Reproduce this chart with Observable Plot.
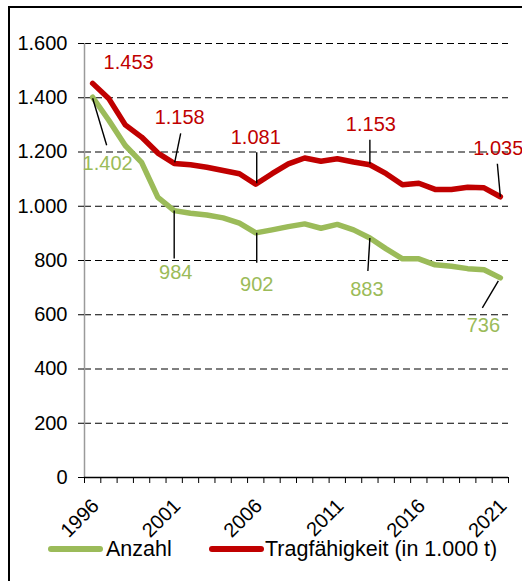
<!DOCTYPE html>
<html><head><meta charset="utf-8">
<script src="https://cdn.jsdelivr.net/npm/d3@7"></script>
<script src="https://cdn.jsdelivr.net/npm/@observablehq/plot@0.6"></script>
<style>
body{margin:0;background:#fff;font-family:"Liberation Sans",Arial,sans-serif;}
#wrap{position:relative;width:522px;height:581px;overflow:hidden;background:#fff;}
#chart{position:absolute;left:0;top:0;}
#frame{position:absolute;left:8px;top:6px;width:700px;height:800px;border-left:2px solid #000;border-top:2px solid #000;pointer-events:none;}
.lg{position:absolute;top:537px;height:24px;font-size:21.5px;line-height:24px;color:#000;white-space:nowrap;}
</style>
</head><body>
<div id="wrap"><div id="chart"></div><div id="frame"></div>
<div id="legend"></div></div>
<script>
// ---- data ----
const years = [1996,1997,1998,1999,2000,2001,2002,2003,2004,2005,2006,2007,2008,2009,2010,2011,2012,2013,2014,2015,2016,2017,2018,2019,2020,2021];
const anzahl = [1402,1316,1224,1162,1033,984,974,968,957,938,902,913,925,935,919,933,913,883,843,806,806,784,779,770,766,736];
const tragfaehigkeit = [1453,1396,1300,1255,1196,1158,1153,1144,1132,1120,1081,1120,1156,1178,1166,1175,1163,1153,1120,1079,1085,1062,1062,1070,1068,1035];
const yTicks = [0,200,400,600,800,1000,1200,1400,1600];
const xLabelYears = [1996,2001,2006,2011,2016,2021];
const seriesNames = ["Anzahl","Tragfähigkeit (in 1.000 t)"];
const labelledYearsAnzahl = [1996,2001,2006,2013,2021];
const labelledYearsTrag = [1996,2001,2006,2013,2021];

// ---- layout (pixel offsets for labels/leaders, not data) ----
const colors = ["#9bbb59","#c00000"];
const labelLayoutAnzahl = [
  {lx:15, ly:66, l:[0,1,14,48]},
  {lx:1.5, ly:62, l:[0,0,0,48]},
  {lx:1, ly:52, l:[1,0,1,30]},
  {lx:-3, ly:52, l:[0,0,-2,33]},
  {lx:-17, ly:48, l:[-2,3,-18,30]}
];
const labelLayoutTrag = [
  {lx:36, ly:-21, l:null},
  {lx:5.5, ly:-46, l:[0.5,-1,6.5,-30]},
  {lx:0, ly:-47, l:[1,-1,1,-32]},
  {lx:1, ly:-40, l:[0,-1,0,-25]},
  {lx:-2, ly:-48, l:[0,0,-3,-33]}
];

const W=522, H=535, mL=84, mR=14, mT=43, mB=H-477;
const xDom=[years[0]-0.5, years[years.length-1]+0.5];
const yDom=[0,1600];
const pxX=(xDom[1]-xDom[0])/(W-mL-mR);
const pxY=(yDom[1]-yDom[0])/(H-mT-mB);

const de = d3.formatLocale({decimal:",",thousands:".",grouping:[3],currency:["","€"]});
const fmt = de.format(",d");

const rowsA = years.map((y,i)=>({year:y,value:anzahl[i]}));
const rowsT = years.map((y,i)=>({year:y,value:tragfaehigkeit[i]}));

function ann(labYears, rows, layout, color){
  return labYears.map((yr,i)=>{
    const v = rows.find(r=>r.year===yr).value;
    const L = layout[i];
    return {year:yr, value:v, color,
      tx: yr + L.lx*pxX, ty: v - L.ly*pxY,
      leader: L.l ? {x1: yr+L.l[0]*pxX, y1: v-L.l[1]*pxY, x2: yr+L.l[2]*pxX, y2: v-L.l[3]*pxY} : null};
  });
}
const annA = ann(labelledYearsAnzahl, rowsA, labelLayoutAnzahl, colors[0]);
const annT = ann(labelledYearsTrag, rowsT, labelLayoutTrag, colors[1]);
const allAnn = annA.concat(annT);
const leaders = allAnn.filter(d=>d.leader).map(d=>d.leader);
const boundaries = years.map(y=>y-0.5).concat([years[years.length-1]+0.5]);

const chart = Plot.plot({
  width:W, height:H, marginLeft:mL, marginRight:mR, marginTop:mT, marginBottom:mB,
  style:{fontFamily:'"Liberation Sans", Arial, sans-serif', fontSize:"20px", color:"#000", background:"#fff", overflow:"visible"},
  x:{domain:xDom, label:null},
  y:{domain:yDom, label:null},
  marks:[
    Plot.ruleY(yTicks.filter(d=>d>0), {stroke:"#000", strokeWidth:1.1, strokeDasharray:"7,4"}),
    Plot.ruleX([xDom[0]], {stroke:"#9a9a9a", strokeWidth:1.5}),
    Plot.ruleY([0], {stroke:"#000", strokeWidth:1.5}),
    Plot.axisY({ticks:yTicks, tickSize:6, tickPadding:11, tickFormat:fmt, label:null, stroke:"#000", fontSize:20}),
    Plot.axisX({ticks:boundaries, tickSize:6, tickFormat:()=>"", label:null, stroke:"#000"}),
    Plot.axisX({ticks:xLabelYears, tickSize:0, tickPadding:18, dx:3, dy:7, tickRotate:-45, tickFormat:d=>String(d), label:null, fontSize:20}),
    Plot.line(rowsA, {x:"year", y:"value", stroke:colors[0], strokeWidth:5.5, strokeLinejoin:"round", strokeLinecap:"round"}),
    Plot.line(rowsT, {x:"year", y:"value", stroke:colors[1], strokeWidth:5.5, strokeLinejoin:"round", strokeLinecap:"round"}),
    Plot.link(leaders, {x1:"x1", y1:"y1", x2:"x2", y2:"y2", stroke:"#000", strokeWidth:1.4}),
    Plot.text(allAnn, {x:"tx", y:"ty", text:d=>fmt(d.value), fill:d=>d.color, fontSize:20})
  ]
});
document.getElementById("chart").appendChild(chart);

const legend = document.getElementById("legend");
const legItems = [{sw:48, swW:55, tx:106},{sw:209, swW:55, tx:265}];
seriesNames.forEach((name,i)=>{
  const s=document.createElement("div");
  s.style.cssText=`left:${legItems[i].sw}px;width:${legItems[i].swW}px;background:${colors[i]};top:${538+8}px;position:absolute;height:6px;border-radius:3px;`;
  legend.appendChild(s);
  const t=document.createElement("div"); t.className="lg"; t.textContent=name;
  t.style.left=legItems[i].tx+"px";
  legend.appendChild(t);
});
</script>
</body></html>
